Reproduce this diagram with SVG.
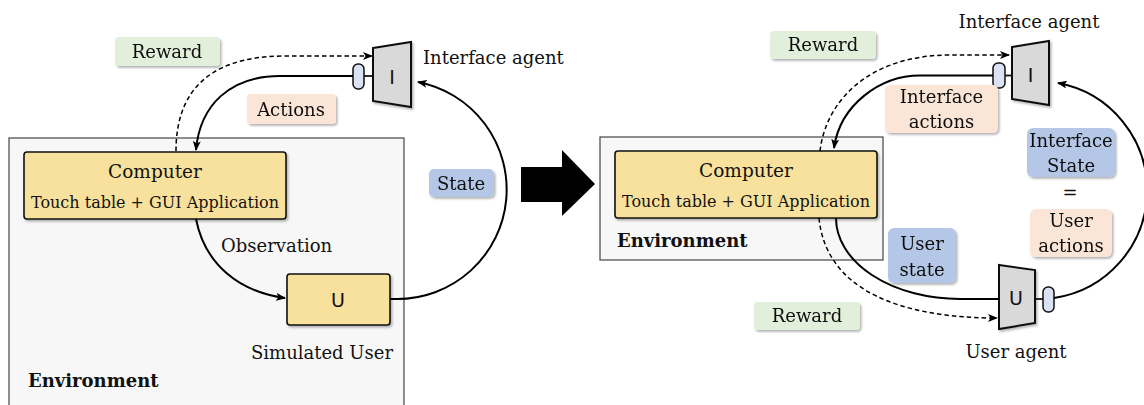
<svg xmlns="http://www.w3.org/2000/svg" width="1144" height="405" viewBox="0 0 1144 405">
<defs>
<filter id="sh" x="-20%" y="-20%" width="140%" height="140%">
<feDropShadow dx="1.5" dy="1.8" stdDeviation="1.1" flood-color="#000" flood-opacity="0.3"/>
</filter>
<marker id="ah" viewBox="0 0 10 8" refX="9" refY="4" markerWidth="10" markerHeight="8" markerUnits="userSpaceOnUse" orient="auto">
<path d="M0,0 L10,4 L0,8 L2.5,4 z" fill="#000"/>
</marker>
<style>
text{font-family:"DejaVu Serif","Liberation Serif",serif;font-size:18px;fill:#111;}
.c{text-anchor:middle;}
.sub{font-size:16px;}
.big{font-size:18.5px;}
.bold{font-weight:bold;}
.sans{font-family:"DejaVu Sans","Liberation Sans",sans-serif;font-size:19px;}
.env{fill:#f7f7f7;stroke:#444;stroke-width:1.2;}
.comp{fill:#f8e19c;stroke:#111;stroke-width:1.6;filter:url(#sh);}
.trap{fill:#d9d9d9;stroke:#111;stroke-width:2;stroke-linejoin:miter;filter:url(#sh);}
.pill{fill:#dae3f3;stroke:#111;stroke-width:1.5;}
.lbl{filter:url(#sh);}
.g{fill:#e2efda;}
.p{fill:#fbe5d6;}
.b{fill:#b4c7e7;}
.solid{fill:none;stroke:#000;stroke-width:2;}
.dash{fill:none;stroke:#000;stroke-width:1.5;stroke-dasharray:4.5 3;}
.arr{marker-end:url(#ah);}
</style>
</defs>

<!-- Left panel -->
<g id="env-left">
<rect class="env" x="9" y="138" width="395" height="280"/>
<text class="bold" x="28" y="387">Environment</text>
</g>
<g id="computer-left">
<rect class="comp" x="24" y="152" width="262" height="67" rx="3"/>
<text class="c big" x="155" y="178">Computer</text>
<text class="c sub" x="155" y="208">Touch table + GUI Application</text>
</g>
<g id="user-left">
<rect class="comp" x="287" y="274" width="103" height="51" rx="3"/>
<text class="c sans" x="338" y="307">U</text>
<text class="c" x="322" y="359">Simulated User</text>
</g>
<g id="agent-left">
<polygon class="trap" points="373,48 411,42 411,107 373,101"/>
<text class="c sans" x="392" y="84">I</text>
<line x1="364" y1="76" x2="373" y2="76" stroke="#111" stroke-width="1.8"/>
<rect class="pill" x="353" y="64" width="11" height="25" rx="5"/>
<text x="423" y="64">Interface agent</text>
</g>

<!-- Right panel -->
<g id="env-right">
<rect class="env" x="600" y="137" width="283" height="123"/>
<text class="bold" x="617" y="247">Environment</text>
</g>
<g id="computer-right">
<rect class="comp" x="615" y="151" width="262" height="67" rx="3"/>
<text class="c big" x="746" y="177">Computer</text>
<text class="c sub" x="746" y="207">Touch table + GUI Application</text>
</g>
<g id="agent-right-i">
<polygon class="trap" points="1012,47 1049,41 1049,105 1012,99"/>
<text class="c sans" x="1030.5" y="82">I</text>
<line x1="1005" y1="75.5" x2="1012" y2="75.5" stroke="#111" stroke-width="1.8"/>
<rect class="pill" x="993" y="63" width="12" height="25" rx="5"/>
<text class="c" x="1029" y="28">Interface agent</text>
</g>
<g id="agent-right-u">
<polygon class="trap" points="999,265 1035,270 1035,323 999,329"/>
<text class="c sans" x="1016" y="305">U</text>
<line x1="1035" y1="299" x2="1043" y2="299" stroke="#111" stroke-width="1.8"/>
<rect class="pill" x="1043" y="287" width="11" height="25" rx="5"/>
<text class="c" x="1016" y="358">User agent</text>
</g>

<!-- Big transition arrow -->
<g id="transition-arrow">
<polygon points="521,167 562,167 562,150 595,184 562,216 562,202 521,202" fill="#000"/>
</g>

<!-- Connectors -->
<g id="connectors">
<path class="dash arr" d="M176,151 C176,100 200,56 285,56 L372,56"/>
<path class="solid arr" d="M353,76 L280,76 C230,76 200,105 196,150"/>
<path class="solid arr" d="M196,219 C205,265 240,292 285,298"/>
<path class="solid arr" d="M390,299 L397,299 A109.5,109.5 0 0 0 418,82"/>

<path class="dash arr" d="M820,151 C826,100 870,55 950,55 L1009,55"/>
<path class="solid arr" d="M993,75.5 L920,75.5 C880,75.5 840,105 834,148"/>
<path class="solid" d="M836,218 A124,81 0 0 0 960,299 L999,299"/>
<path class="dash arr" d="M819,218 C826,290 900,318 997,318"/>
<path class="solid arr" d="M1054,298 A109,109 0 0 0 1058,83"/>
</g>

<!-- Labels -->
<g id="label-reward-left" class="lbl">
<rect class="g" x="115" y="37" width="105" height="29" rx="4"/>
<text class="c" x="167" y="58">Reward</text>
</g>
<g id="label-actions" class="lbl">
<rect class="p" x="247" y="94" width="89" height="30" rx="4"/>
<text class="c" x="291" y="116">Actions</text>
</g>
<g id="label-observation">
<text x="221" y="252">Observation</text>
</g>
<g id="label-state" class="lbl">
<rect class="b" x="429" y="169" width="65" height="28" rx="5"/>
<text class="c" x="461" y="190">State</text>
</g>
<g id="label-reward-right-top" class="lbl">
<rect class="g" x="770" y="31" width="106" height="28" rx="4"/>
<text class="c" x="823" y="51">Reward</text>
</g>
<g id="label-interface-actions" class="lbl">
<rect class="p" x="885" y="85" width="113" height="48" rx="5"/>
<text class="c" x="941.5" y="103">Interface</text>
<text class="c" x="941.5" y="128">actions</text>
</g>
<g id="label-interface-state" class="lbl">
<rect class="b" x="1027" y="128" width="88" height="49" rx="6"/>
<text class="c" x="1071" y="147">Interface</text>
<text class="c" x="1071" y="172">State</text>
</g>
<g id="label-equals">
<text class="c" x="1070" y="199">=</text>
</g>
<g id="label-user-actions" class="lbl">
<rect class="p" x="1030" y="209" width="82" height="48" rx="6"/>
<text class="c" x="1071" y="227">User</text>
<text class="c" x="1071" y="252">actions</text>
</g>
<g id="label-user-state" class="lbl">
<rect class="b" x="888" y="228" width="68" height="55" rx="6"/>
<text class="c" x="922" y="250">User</text>
<text class="c" x="922" y="276">state</text>
</g>
<g id="label-reward-right-bottom" class="lbl">
<rect class="g" x="754" y="302" width="106" height="28" rx="4"/>
<text class="c" x="807" y="322">Reward</text>
</g>
</svg>
